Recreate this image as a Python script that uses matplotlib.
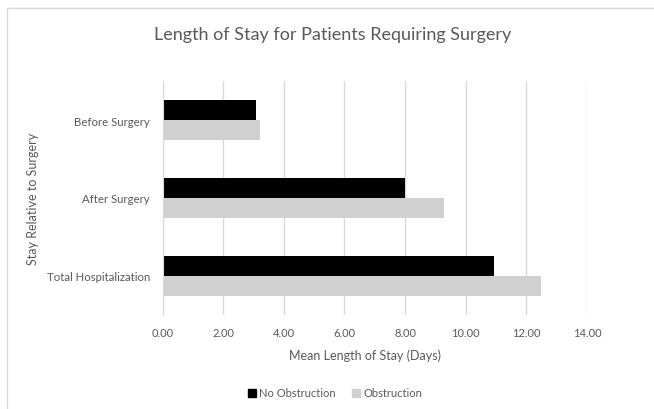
import matplotlib
matplotlib.use("Agg")
import matplotlib.pyplot as plt
import numpy as np
from matplotlib.patches import Rectangle, Patch

plt.rcParams['font.family'] = ['Lato', 'DejaVu Sans']

categories = ["Before Surgery", "After Surgery", "Total Hospitalization"]
no_obstruction = [3.07, 8.01, 10.93]
obstruction = [3.23, 9.27, 12.49]
series_names = ["No Obstruction", "Obstruction"]
xticks = [0, 2, 4, 6, 8, 10, 12, 14]

text_col = "#595959"
grid_col = "#d9d9d9"
black = "#000000"
grey = "#d0d0d0"

fig = plt.figure(figsize=(6.54, 4.10), dpi=100)
# chart border
fig.patches.append(Rectangle((7 / 654, -0.1), 1.1, 1 - 9 / 410 + 0.1,
                             transform=fig.transFigure, fill=False,
                             edgecolor="#d9d9d9", linewidth=1.0))

ax = fig.add_axes([162.5 / 654, 1 - 316 / 410, 424.5 / 654, 234 / 410])

y = np.arange(len(categories))
h = 0.256
ax.barh(y - h / 2, no_obstruction, height=h, color=black, label=series_names[0], zorder=3)
ax.barh(y + h / 2, obstruction, height=h, color=grey, label=series_names[1], zorder=3)

ax.set_xlim(0, 14)
ax.set_ylim(2.5, -0.5)
ax.set_xticks(xticks)
ax.set_xticklabels([f"{v:.2f}" for v in xticks], fontsize=8, color=text_col)
ax.set_yticks(y)
ax.set_yticklabels(categories, fontsize=8.2, color=text_col)
ax.tick_params(axis='both', length=0)
ax.tick_params(axis='x', pad=9)
ax.tick_params(axis='y', pad=9)
ax.grid(axis='x', color=grid_col, linewidth=1.0, zorder=0)
for s in ["top", "right", "bottom"]:
    ax.spines[s].set_visible(False)
ax.spines["left"].set_color(grid_col)
ax.spines["left"].set_zorder(4)

fig.text(333 / 654, 1 - 35 / 410, "Length of Stay for Patients Requiring Surgery",
         ha='center', va='center', fontsize=13, color=text_col)
fig.text(365 / 654, 1 - 356 / 410, "Mean Length of Stay (Days)",
         ha='center', va='center', fontsize=9, color=text_col)
fig.text(33 / 654, 1 - 199 / 410, "Stay Relative to Surgery", rotation=90,
         ha='center', va='center', fontsize=9, color=text_col)

handles = [Patch(color=black), Patch(color=grey)]
fig.legend(handles, series_names, loc='center', bbox_to_anchor=(335 / 654, 1 - 394 / 410),
           ncol=2, frameon=False, fontsize=8, labelcolor=text_col,
           handlelength=0.7, handleheight=0.7, handletextpad=0.3, columnspacing=1.5)

fig.savefig("out.png", dpi=100)
